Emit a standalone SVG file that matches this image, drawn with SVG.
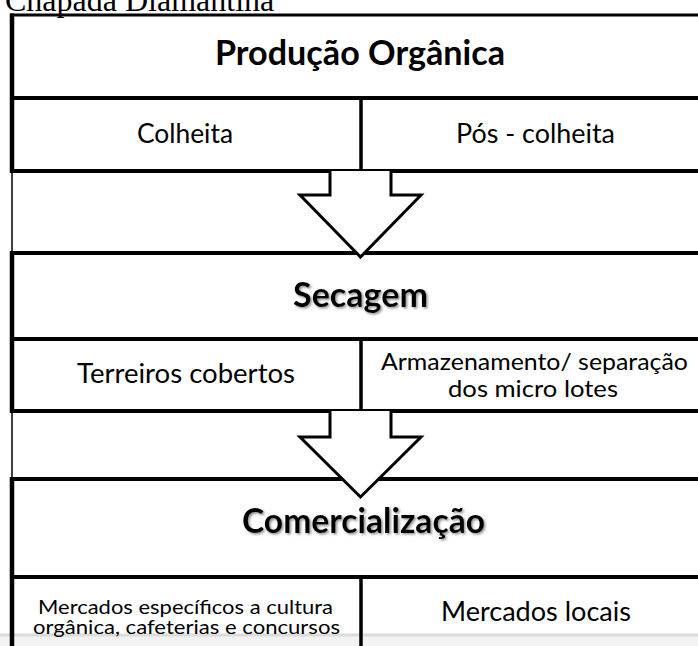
<svg xmlns="http://www.w3.org/2000/svg" width="698" height="646" viewBox="0 0 698 646">
<style>
.bd{stroke:#000;stroke-width:4;fill:none}
.thin{stroke:#000;stroke-width:1.5;fill:none}
.arrow{stroke:#000;stroke-width:3;fill:#fff;stroke-linejoin:miter}
.hd{font-family:Lato,"Open Sans",sans-serif;font-weight:bold;font-size:34px;fill:#000;text-anchor:middle}
.tx{font-family:Lato,"Open Sans",sans-serif;font-size:26px;fill:#000;text-anchor:middle}
.sm{font-family:Lato,"Open Sans",sans-serif;font-size:20px;fill:#000;text-anchor:middle}
</style>
<defs>
<filter id="sh" x="-10%" y="-20%" width="130%" height="160%">
<feDropShadow dx="1.5" dy="1.5" stdDeviation="1" flood-color="#777" flood-opacity="0.8"/>
</filter>
</defs>
<rect width="698" height="646" fill="#fff"/>
<text x="5" y="11" font-family="Liberation Serif,serif" font-size="32" fill="#000">Chapada Diamantina</text>
<rect x="0" y="634" width="698" height="12" fill="#f3f3f3"/>
<line x1="0" y1="635" x2="698" y2="635" stroke="#dcdcdc" stroke-width="3"/>
<g id="producao">
<line class="bd" x1="10" y1="15" x2="698" y2="15" style="stroke-width:3"/>
<line class="bd" x1="12" y1="13.5" x2="12" y2="173" style="stroke-width:4.5"/>
<line class="bd" x1="12" y1="98" x2="698" y2="98"/>
<line class="bd" x1="12" y1="171" x2="698" y2="171"/>
<line class="bd" x1="361" y1="98" x2="361" y2="171" style="stroke-width:3.5"/>
<text class="hd" x="360" y="65" textLength="290" lengthAdjust="spacingAndGlyphs">Produção Orgânica</text>
<text class="tx" x="185" y="143" textLength="96" lengthAdjust="spacingAndGlyphs">Colheita</text>
<text class="tx" x="535.5" y="143" textLength="159" lengthAdjust="spacingAndGlyphs">Pós - colheita</text>
</g>
<line class="thin" x1="12" y1="171" x2="12" y2="253"/>
<g id="secagem">
<line class="bd" x1="12" y1="253" x2="698" y2="253"/>
<line class="bd" x1="12" y1="251" x2="12" y2="413" style="stroke-width:4.5"/>
<line class="bd" x1="12" y1="339" x2="698" y2="339"/>
<line class="bd" x1="12" y1="411" x2="698" y2="411"/>
<line class="bd" x1="361" y1="339" x2="361" y2="411" style="stroke-width:3.5"/>
<text class="hd" x="360.5" y="307" textLength="135" lengthAdjust="spacingAndGlyphs" filter="url(#sh)">Secagem</text>
<text class="tx" x="186" y="383" textLength="218" lengthAdjust="spacingAndGlyphs">Terreiros cobertos</text>
<text class="tx" x="534.5" y="370" textLength="307" lengthAdjust="spacingAndGlyphs" style="font-size:24px">Armazenamento/ separação</text>
<text class="tx" x="533" y="397" textLength="170" lengthAdjust="spacingAndGlyphs" style="font-size:24px">dos micro lotes</text>
</g>
<line class="thin" x1="12" y1="411" x2="12" y2="479"/>
<g id="comercializacao">
<line class="bd" x1="12" y1="479" x2="698" y2="479"/>
<line class="bd" x1="12" y1="477" x2="12" y2="646" style="stroke-width:4.5"/>
<line class="bd" x1="12" y1="577" x2="698" y2="577"/>
<line class="bd" x1="361" y1="577" x2="361" y2="646" style="stroke-width:3.5"/>
<text class="hd" x="363.5" y="533" textLength="243" lengthAdjust="spacingAndGlyphs" filter="url(#sh)">Comercialização</text>
<text class="sm" x="185.5" y="614" textLength="295" lengthAdjust="spacingAndGlyphs">Mercados específicos a cultura</text>
<text class="sm" x="186.5" y="634" textLength="307" lengthAdjust="spacingAndGlyphs">orgânica, cafeterias e concursos</text>
<text class="tx" x="536" y="621" textLength="190" lengthAdjust="spacingAndGlyphs">Mercados locais</text>
</g>
<g id="connectors">
<path class="arrow" d="M330,171 V195 H300 L360.5,257 L421,195 H391 V171"/>
<path class="arrow" d="M330,411 V437 H300 L360.5,497 L421,437 H391 V411"/>
</g>
</svg>
